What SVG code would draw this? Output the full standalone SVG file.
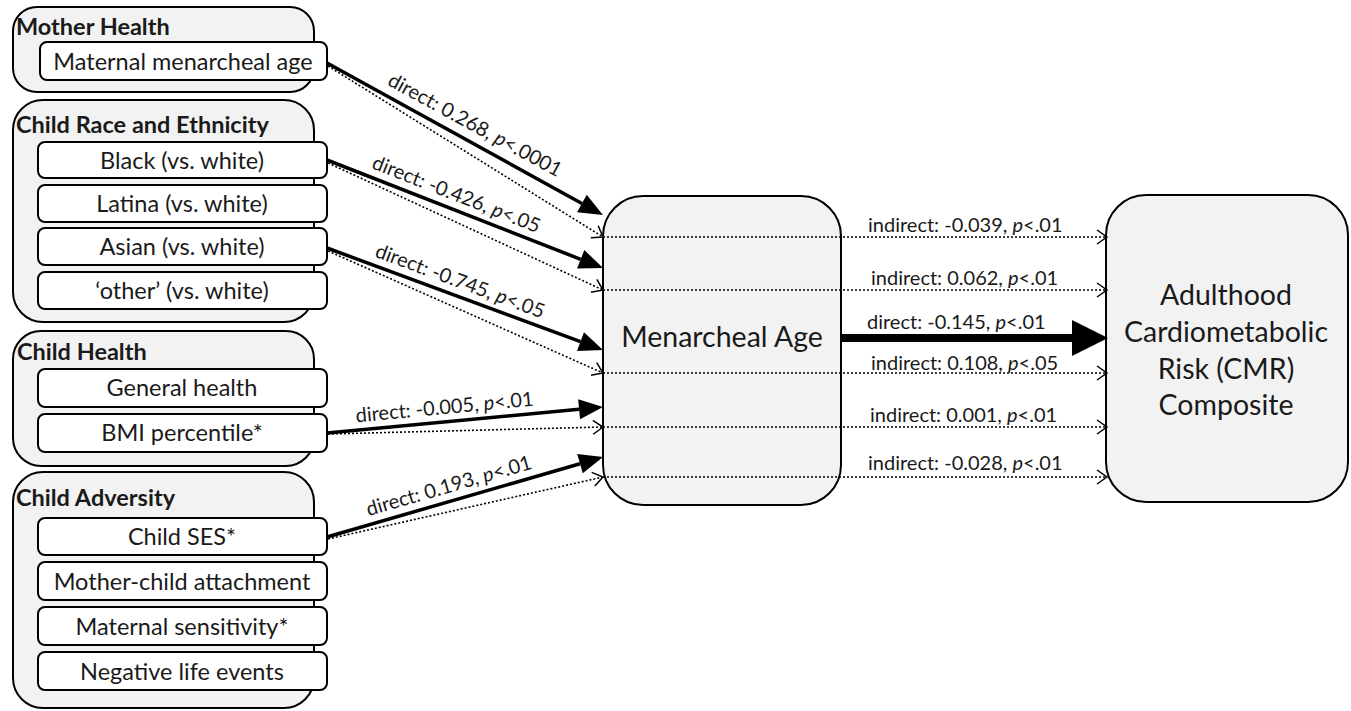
<svg xmlns="http://www.w3.org/2000/svg" width="1351" height="711" viewBox="0 0 1351 711">
<style>
text{font-family:Lato,"Liberation Sans",sans-serif;fill:#1a1a1a}
.grp{fill:#f2f2f2;stroke:#000;stroke-width:2}
.box{fill:#fff;stroke:#000;stroke-width:2}
.hdr{font-weight:bold;font-size:23.5px}
.itm{font-size:23.5px;text-anchor:middle}
.big{fill:#f2f2f2;stroke:#000;stroke-width:2}
.bigt{font-size:28.5px;text-anchor:middle}
.lbl{font-size:20px;text-anchor:middle}
.ilbl{font-size:20px}
.dir{stroke:#000;stroke-width:3.5;fill:none;marker-end:url(#tri)}
.dota{stroke:#000;stroke-width:1.6;stroke-dasharray:2 2;fill:none;marker-end:url(#chev)}
</style>
<defs>
<marker id="tri" markerUnits="userSpaceOnUse" markerWidth="30" markerHeight="24" viewBox="0 -12 26 24" refX="0" refY="0" orient="auto">
<path d="M0,-10 L24,0 L0,10 z" fill="#000"/>
</marker>
<marker id="chev" markerUnits="userSpaceOnUse" markerWidth="14" markerHeight="16" viewBox="-12 -8 14 16" refX="0" refY="0" orient="auto">
<path d="M-10,-7 L0,0 L-10,7" fill="none" stroke="#000" stroke-width="1.5"/>
</marker>
</defs>

<g id="mother-health">
<rect class="grp" x="13" y="7" width="301" height="85" rx="24"/>
<text class="hdr" x="16" y="35">Mother Health</text>
<rect class="box" x="40" y="42" width="287" height="38" rx="7"/>
<text class="itm" x="183" y="70">Maternal menarcheal age</text>
</g>

<g id="child-race">
<rect class="grp" x="13" y="100" width="301" height="222" rx="30"/>
<text class="hdr" x="16" y="133">Child Race and Ethnicity</text>
<rect class="box" x="38" y="142" width="289" height="36" rx="7"/>
<text class="itm" x="182" y="169">Black (vs. white)</text>
<rect class="box" x="38" y="185" width="289" height="37" rx="7"/>
<text class="itm" x="182" y="212">Latina (vs. white)</text>
<rect class="box" x="38" y="228" width="289" height="37" rx="7"/>
<text class="itm" x="182" y="255">Asian (vs. white)</text>
<rect class="box" x="38" y="272" width="289" height="37" rx="7"/>
<text class="itm" x="182" y="299">‘other’ (vs. white)</text>
</g>

<g id="child-health">
<rect class="grp" x="13" y="331" width="301" height="135" rx="28"/>
<text class="hdr" x="17" y="360">Child Health</text>
<rect class="box" x="38" y="369" width="289" height="38" rx="7"/>
<text class="itm" x="182" y="396">General health</text>
<rect class="box" x="38" y="414" width="289" height="38" rx="7"/>
<text class="itm" x="182" y="441">BMI percentile*</text>
</g>

<g id="child-adversity">
<rect class="grp" x="13" y="472" width="301" height="236" rx="30"/>
<text class="hdr" x="16" y="506">Child Adversity</text>
<rect class="box" x="38" y="518" width="289" height="37" rx="7"/>
<text class="itm" x="182" y="545">Child SES*</text>
<rect class="box" x="38" y="562" width="289" height="38" rx="7"/>
<text class="itm" x="182" y="590">Mother-child attachment</text>
<rect class="box" x="38" y="607" width="289" height="38" rx="7"/>
<text class="itm" x="182" y="635">Maternal sensitivity*</text>
<rect class="box" x="38" y="652" width="289" height="38" rx="7"/>
<text class="itm" x="182" y="680">Negative life events</text>
</g>

<g id="menarcheal-age">
<rect class="big" x="603" y="196" width="238" height="309" rx="40"/>
<text class="bigt" x="722" y="347">Menarcheal Age</text>
</g>

<g id="cmr">
<rect class="big" x="1106" y="195" width="242" height="307" rx="40"/>
<text class="bigt" x="1226" y="305">Adulthood</text>
<text class="bigt" x="1226" y="342">Cardiometabolic</text>
<text class="bigt" x="1226" y="379">Risk (CMR)</text>
<text class="bigt" x="1226" y="415">Composite</text>
</g>

<g id="connectors">
<line class="dir" x1="327" y1="63" x2="581.9" y2="203.5"/>
<line class="dota" x1="328" y1="66" x2="603" y2="237"/>
<line class="dir" x1="327" y1="160" x2="580.7" y2="259.3"/>
<line class="dota" x1="328" y1="163" x2="603" y2="290"/>
<line class="dir" x1="327" y1="248" x2="580.5" y2="341.7"/>
<line class="dota" x1="328" y1="251" x2="603" y2="373"/>
<line class="dir" x1="327" y1="433" x2="579.1" y2="409.3"/>
<line class="dota" x1="328" y1="434" x2="603" y2="427"/>
<line class="dir" x1="327" y1="537" x2="580" y2="463.7"/>
<line class="dota" x1="328" y1="539" x2="603" y2="477"/>

<line class="dota" x1="603" y1="237" x2="1107" y2="237"/>
<line class="dota" x1="603" y1="290" x2="1107" y2="290"/>
<line class="dota" x1="603" y1="373" x2="1107" y2="373"/>
<line class="dota" x1="603" y1="427" x2="1107" y2="427"/>
<line class="dota" x1="603" y1="477" x2="1107" y2="477"/>

<line x1="841" y1="338" x2="1074" y2="338" stroke="#000" stroke-width="8"/>
<path d="M1072,320 L1108,338 L1072,356 z" fill="#000"/>

<text class="lbl" transform="translate(468,138) rotate(28.5)" y="-8">direct: 0.268, <tspan font-style="italic">p</tspan>&lt;.0001</text>
<text class="lbl" transform="translate(451,208) rotate(21.4)" y="-8">direct: -0.426, <tspan font-style="italic">p</tspan>&lt;.05</text>
<text class="lbl" transform="translate(455,295) rotate(20.3)" y="-8">direct: -0.745, <tspan font-style="italic">p</tspan>&lt;.05</text>
<text class="lbl" transform="translate(446,422) rotate(-5.4)" y="-8">direct: -0.005, <tspan font-style="italic">p</tspan>&lt;.01</text>
<text class="lbl" transform="translate(453,500) rotate(-16.2)" y="-8">direct: 0.193, <tspan font-style="italic">p</tspan>&lt;.01</text>

<text class="ilbl" x="868" y="232">indirect: -0.039, <tspan font-style="italic">p</tspan>&lt;.01</text>
<text class="ilbl" x="871" y="285">indirect: 0.062, <tspan font-style="italic">p</tspan>&lt;.01</text>
<text class="ilbl" x="867" y="329">direct: -0.145, <tspan font-style="italic">p</tspan>&lt;.01</text>
<text class="ilbl" x="871" y="370">indirect: 0.108, <tspan font-style="italic">p</tspan>&lt;.05</text>
<text class="ilbl" x="870" y="422">indirect: 0.001, <tspan font-style="italic">p</tspan>&lt;.01</text>
<text class="ilbl" x="868" y="470">indirect: -0.028, <tspan font-style="italic">p</tspan>&lt;.01</text>
</g>
</svg>
